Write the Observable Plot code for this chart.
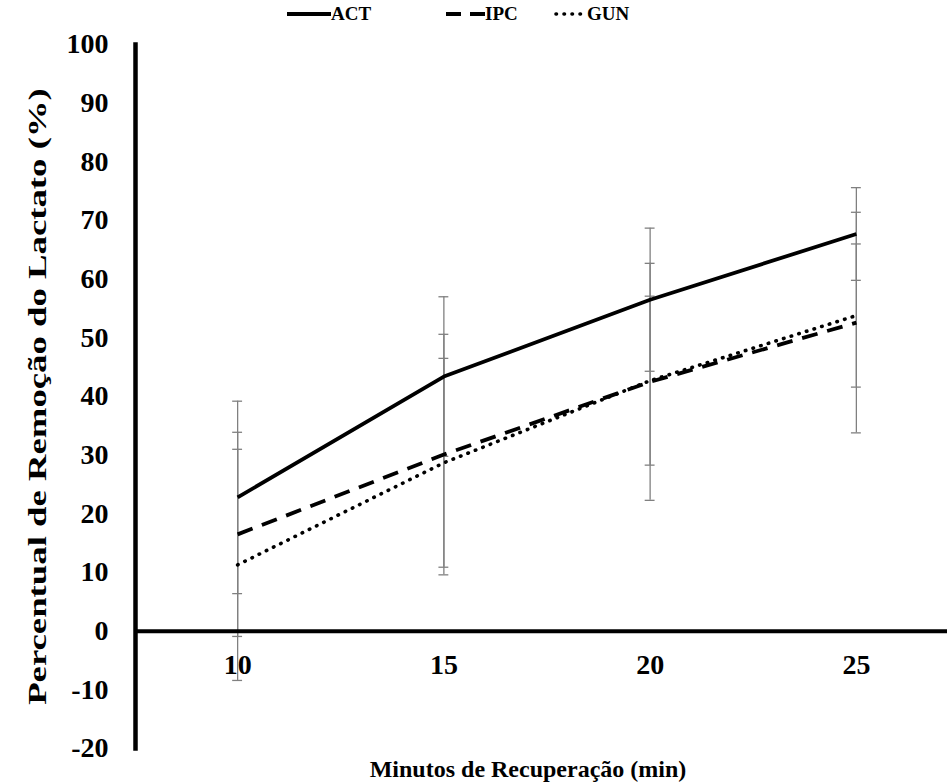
<!DOCTYPE html>
<html>
<head>
<meta charset="utf-8">
<script src="https://cdn.jsdelivr.net/npm/d3@7"></script>
<script src="https://cdn.jsdelivr.net/npm/@observablehq/plot@0.6"></script>
<style>
  html, body { margin: 0; padding: 0; background: #fff; }
  #wrap { width: 947px; font-family: "Liberation Serif", "Times New Roman", serif; }
  #legend { position: relative; height: 28px; }
  .item { position: absolute; top: 0; height: 28px; display: flex; align-items: center; font-weight: bold; font-size: 19px; color: #000; }
  .item svg { display: block; }
  #xtitle { position: relative; height: 30px; }
  #xtitle span { position: absolute; left: 528px; top: 0; transform: translateX(-50%); white-space: nowrap; font-weight: bold; font-size: 24px; line-height: 30px; }
</style>
</head>
<body>
<div id="wrap">
  <div id="legend"></div>
  <div id="chart"></div>
  <div id="xtitle"><span>Minutos de Recuperação (min)</span></div>
</div>
<script>
// ---- data ----
const minutes = [10, 15, 20, 25];
const seriesNames = ["ACT", "IPC", "GUN"];
const act = [22.8, 43.4, 56.5, 67.7];
const ipc = [16.5, 30.1, 42.5, 52.6];
const gun = [11.3, 28.7, 42.7, 53.8];
const actErr = [16.4, 13.6, 12.2, 7.9];
const ipcErr = [17.4, 20.5, 20.2, 18.8];
const gunErr = [19.7, 17.8, 14.4, 12.2];
const yTicks = [-20, -10, 0, 10, 20, 30, 40, 50, 60, 70, 80, 90, 100];
const yTitle = "Percentual de Remoção do Lactato (%)";

const values = [act, ipc, gun];
const errs = [actErr, ipcErr, gunErr];
const rows = seriesNames.flatMap((s, i) =>
  minutes.map((m, j) => ({series: s, minute: m, value: values[i][j], err: errs[i][j]}))
);

const dashes = {ACT: null, IPC: "16,10", GUN: "0.5,7.5"};
const widths = {ACT: 3.8, IPC: 3.8, GUN: 3.6};
const caps = {ACT: "butt", IPC: "butt", GUN: "round"};

const font = "Liberation Serif, Times New Roman, serif";
const errColor = "#808080";
const capHalf = 0.12;

const lineMarks = seriesNames.map(s =>
  Plot.line(rows.filter(d => d.series === s), {
    x: "minute", y: "value", stroke: "#000",
    strokeWidth: widths[s], strokeDasharray: dashes[s] || undefined,
    strokeLinecap: caps[s], strokeLinejoin: "round"
  })
);

const chart = Plot.plot({
  width: 947,
  height: 726,
  marginTop: 16,
  marginBottom: 6,
  marginLeft: 135,
  marginRight: 0,
  style: {fontFamily: font, overflow: "visible", background: "transparent"},
  x: {type: "linear", domain: [7.5, 27.5], range: [134, 959], axis: null},
  y: {domain: [-20, 100], axis: null},
  marks: [
    Plot.ruleX(rows, {x: "minute", y1: d => d.value - d.err, y2: d => d.value + d.err, stroke: errColor, strokeWidth: 1.3}),
    Plot.ruleY(rows, {y: d => d.value + d.err, x1: d => d.minute - capHalf, x2: d => d.minute + capHalf, stroke: errColor, strokeWidth: 1.3}),
    Plot.ruleY(rows, {y: d => d.value - d.err, x1: d => d.minute - capHalf, x2: d => d.minute + capHalf, stroke: errColor, strokeWidth: 1.3}),
    Plot.ruleY([0], {stroke: "#000", strokeWidth: 4}),
    Plot.frame({anchor: "left", stroke: "#000", strokeWidth: 4.5}),
    ...lineMarks,
    Plot.axisY({ticks: yTicks, tickSize: 0, tickPadding: 27, tickFormat: d => String(d), fontSize: 28, fontWeight: "bold", fontFamily: font, fill: "#000", label: null}),
    Plot.text(minutes, {x: d => d, y: 0, text: d => String(d), dy: 34, fontSize: 28, fontWeight: "bold", fontFamily: font, fill: "#000"}),
    Plot.text([yTitle], {frameAnchor: "left", dx: -98, rotate: -90, textAnchor: "middle", text: d => d, fontSize: 25, fontWeight: "bold", fontFamily: font, fill: "#000"})
  ]
});
document.getElementById("chart").appendChild(chart);

// stretch y title glyphs along the text direction (reference text is tall and narrow)
d3.select(chart).selectAll("text").filter(function() { return this.textContent === yTitle; })
  .each(function() {
    const L = this.getComputedTextLength();
    const sx = L > 0 ? 617 / L : 1;
    const tr = this.getAttribute("transform") || "";
    this.setAttribute("transform", (tr + " scale(" + sx + ",1)").trim());
  });

// ---- legend ----
const legendItems = [
  {name: "ACT", left: 287, w: 44},
  {name: "IPC", left: 446, w: 39},
  {name: "GUN", left: 554, w: 33}
];
const legend = document.getElementById("legend");
legendItems.forEach(it => {
  const div = document.createElement("div");
  div.className = "item";
  div.style.left = it.left + "px";
  const ns = "http://www.w3.org/2000/svg";
  const svg = document.createElementNS(ns, "svg");
  svg.setAttribute("width", it.w);
  svg.setAttribute("height", 28);
  const ln = document.createElementNS(ns, "line");
  ln.setAttribute("x1", it.name === "GUN" ? 2 : 0);
  ln.setAttribute("x2", it.w);
  ln.setAttribute("y1", 14);
  ln.setAttribute("y2", 14);
  ln.setAttribute("stroke", "#000");
  ln.setAttribute("stroke-width", widths[it.name]);
  if (dashes[it.name]) ln.setAttribute("stroke-dasharray", it.name === "IPC" ? "15,9" : dashes[it.name]);
  ln.setAttribute("stroke-linecap", caps[it.name]);
  svg.appendChild(ln);
  div.appendChild(svg);
  const t = document.createElement("span");
  t.textContent = it.name;
  div.appendChild(t);
  legend.appendChild(div);
});
</script>
</body>
</html>
